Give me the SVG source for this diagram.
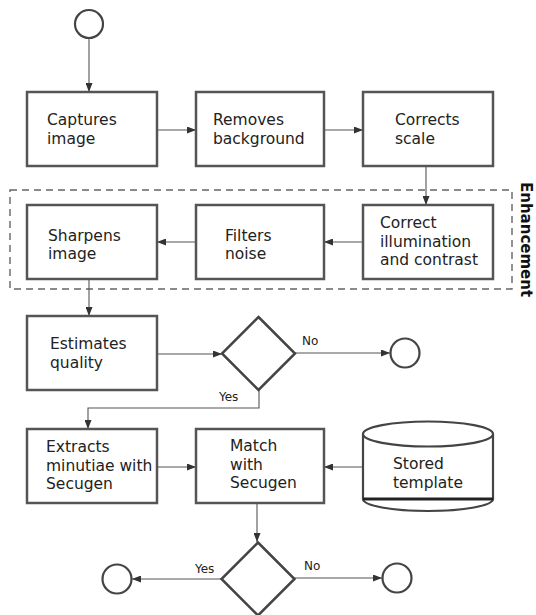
<svg xmlns="http://www.w3.org/2000/svg" width="536" height="615" viewBox="0 0 536 615">
<defs>
<marker id="arr" markerWidth="9" markerHeight="7" refX="9" refY="3.5" orient="auto" markerUnits="userSpaceOnUse">
<path d="M0,0 L9,3.5 L0,7 z" fill="#333"/>
</marker>
<style>
.box{fill:#fff;stroke:#555;stroke-width:2.5}
.dia{fill:#fff;stroke:#444;stroke-width:2.5}
.term{fill:#fff;stroke:#444;stroke-width:2.2}
.t{font-family:"DejaVu Sans",Verdana,sans-serif;font-size:15.5px;fill:#222}
.lbl{font-family:"DejaVu Sans",Verdana,sans-serif;font-size:12px;fill:#222}
.c{fill:none;stroke:#555;stroke-width:1.1}
.ca{fill:none;stroke:#555;stroke-width:1.1;marker-end:url(#arr)}
</style>
</defs>
<rect width="536" height="615" fill="#fff"/>

<g id="enhancement">
<rect x="10" y="190" width="502" height="99" fill="none" stroke="#666" stroke-width="1.4" stroke-dasharray="7 5"/>
<text x="521" y="182" transform="rotate(90 521 182)" style="font-family:'DejaVu Sans',Verdana,sans-serif;font-weight:bold;font-size:15px;fill:#111">Enhancement</text>
</g>

<g id="connectors">
<line class="ca" x1="89" y1="38" x2="89" y2="92"/>
<line class="ca" x1="157" y1="130" x2="196" y2="130"/>
<line class="ca" x1="324" y1="130" x2="363" y2="130"/>
<line class="ca" x1="426" y1="166" x2="426" y2="205"/>
<line class="ca" x1="363" y1="242" x2="324" y2="242"/>
<line class="ca" x1="196" y1="242" x2="157" y2="242"/>
<line class="ca" x1="89" y1="279" x2="89" y2="316"/>
<line class="ca" x1="157" y1="354" x2="222" y2="354"/>
<line class="ca" x1="295" y1="353" x2="390" y2="353"/>
<polyline class="ca" points="259,390 259,408 88,408 88,429"/>
<line class="ca" x1="157" y1="467" x2="196" y2="467"/>
<line class="ca" x1="363" y1="467" x2="324" y2="467"/>
<line class="ca" x1="257" y1="503" x2="257" y2="542"/>
<line class="ca" x1="222" y1="579" x2="132" y2="579"/>
<line class="ca" x1="294" y1="578" x2="382" y2="578"/>
<text class="lbl" x="302" y="345">No</text>
<text class="lbl" x="219" y="401">Yes</text>
<text class="lbl" x="195" y="573">Yes</text>
<text class="lbl" x="304" y="570">No</text>
</g>

<g id="start"><circle class="term" cx="89" cy="24" r="14"/></g>

<g id="captures">
<rect class="box" x="27" y="92" width="130" height="74"/>
<text class="t" x="47" y="125">Captures</text>
<text class="t" x="47" y="143.5">image</text>
</g>
<g id="removes">
<rect class="box" x="196" y="92" width="128" height="74"/>
<text class="t" x="213" y="125">Removes</text>
<text class="t" x="213" y="143.5">background</text>
</g>
<g id="corrects">
<rect class="box" x="363" y="92" width="130" height="74"/>
<text class="t" x="395" y="125">Corrects</text>
<text class="t" x="395" y="143.5">scale</text>
</g>

<g id="illumination">
<rect class="box" x="363" y="205" width="130" height="74"/>
<text class="t" x="380" y="228">Correct</text>
<text class="t" x="380" y="246.5">illumination</text>
<text class="t" x="380" y="265">and contrast</text>
</g>
<g id="filters">
<rect class="box" x="196" y="205" width="128" height="74"/>
<text class="t" x="225" y="240.5">Filters</text>
<text class="t" x="225" y="259">noise</text>
</g>
<g id="sharpens">
<rect class="box" x="27" y="205" width="130" height="74"/>
<text class="t" x="48" y="240.5">Sharpens</text>
<text class="t" x="48" y="259">image</text>
</g>

<g id="estimates">
<rect class="box" x="27" y="316" width="130" height="74"/>
<text class="t" x="50" y="349">Estimates</text>
<text class="t" x="50" y="367.5">quality</text>
</g>
<g id="decision1"><polygon class="dia" points="258.5,317 295,353.5 258.5,390 222,353.5"/></g>
<g id="end1"><circle class="term" cx="405" cy="353" r="14.5"/></g>

<g id="extracts">
<rect class="box" x="27" y="429" width="130" height="74"/>
<text class="t" x="46" y="452">Extracts</text>
<text class="t" x="46" y="470.5">minutiae with</text>
<text class="t" x="46" y="489">Secugen</text>
</g>
<g id="match">
<rect class="box" x="196" y="429" width="128" height="74"/>
<text class="t" x="230" y="451">Match</text>
<text class="t" x="230" y="469.5">with</text>
<text class="t" x="230" y="488">Secugen</text>
</g>
<g id="stored">
<path d="M363,434 L363,499 A65,12 0 0 0 493,499 L493,434" fill="#fff" stroke="#444" stroke-width="2.2"/>
<line x1="363" y1="499" x2="493" y2="499" stroke="#222" stroke-width="3"/>
<ellipse cx="428" cy="434" rx="65" ry="12.5" fill="#fff" stroke="#444" stroke-width="2.2"/>
<text class="t" x="393" y="469">Stored</text>
<text class="t" x="393" y="487.5">template</text>
</g>

<g id="decision2"><polygon class="dia" points="258,542.5 294.5,579 258,615.5 221.5,579"/></g>
<g id="end2"><circle class="term" cx="117" cy="579" r="14.5"/></g>
<g id="end3"><circle class="term" cx="397" cy="578" r="14.5"/></g>
</svg>
